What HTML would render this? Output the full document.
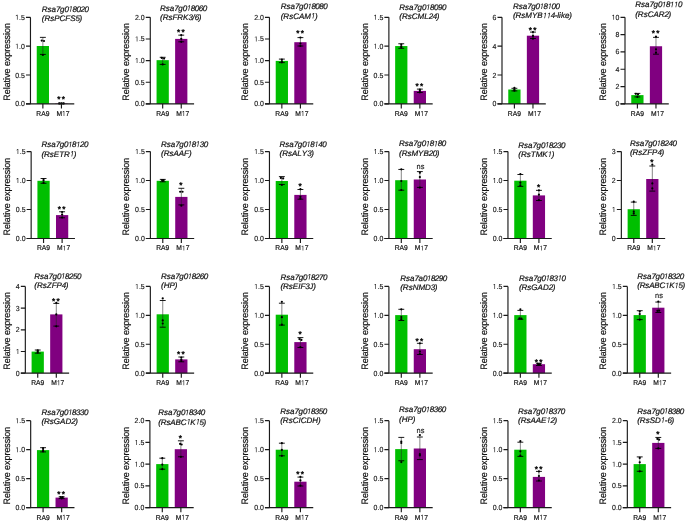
<!DOCTYPE html>
<html><head><meta charset="utf-8"><style>
html,body{margin:0;padding:0;background:#fff}
svg{display:block;will-change:transform}
text{font-kerning:none;font-family:'Liberation Sans', sans-serif;fill:#111;stroke:#111;stroke-width:0.12px;text-rendering:geometricPrecision}
.tl{font-size:7.25px;stroke-width:0.13px}
.xl{font-size:7.0px;stroke-width:0.2px}
.yl{font-size:9.37px;stroke-width:0.2px}
.tt{font-size:8.0px;font-style:italic;stroke-width:0.2px}
.ns{font-size:7.7px}
.sg{fill:#111}
.h{fill:none;stroke:none}
.o{fill:#111;stroke:#111;stroke-width:0.16px}
.oi{stroke-width:0.2px}
.st{font-size:8.2px;stroke-width:0.45px}
</style></head><body>
<svg width="685" height="522" viewBox="0 0 685 522">
<rect x="36.74" y="46" width="12.25" height="57.9" fill="#00bf00"/>
<rect x="55.31" y="103.5" width="12.25" height="0.4" fill="#800080"/>
<path d="M42.87 37.36V54.4" stroke="#222" stroke-width="0.55" fill="none"/>
<path d="M39.92 37.36H45.82M39.92 54.4H45.82" stroke="#000" stroke-width="0.9" fill="none"/>
<circle cx="41.72" cy="40.6" r="1.1" fill="#000"/>
<circle cx="44.02" cy="41" r="1.1" fill="#000"/>
<circle cx="42.87" cy="55" r="1.1" fill="#000"/>
<path d="M61.44 103.1V103.9" stroke="#222" stroke-width="0.55" fill="none"/>
<path d="M58.49 103.1H64.39M58.49 103.9H64.39" stroke="#000" stroke-width="0.9" fill="none"/>
<circle cx="59.24" cy="103.4" r="1.1" fill="#000"/>
<circle cx="61.44" cy="103.4" r="1.1" fill="#000"/>
<circle cx="63.64" cy="103.4" r="1.1" fill="#000"/>
<path d="M30.47 17.3V103.9M25.97 103.9H74.27" stroke="#1a1a1a" stroke-width="1.15" fill="none"/>
<text transform="translate(24.87 106.4) scale(0.96 1)" text-anchor="end" class="tl">0.0</text>
<text transform="translate(24.87 77.53) scale(0.96 1)" text-anchor="end" class="tl">0.5</text>
<g transform="translate(24.87 48.67) scale(0.96 1)"><text text-anchor="end" class="tl"><tspan class="h">1</tspan>.0</text><path d="M515 0L515 1237L197 1010L197 1180L530 1409L696 1409L696 0Z" transform="translate(-10.08 0) scale(0.003540 -0.003540)" class="o"/></g>
<g transform="translate(24.87 19.8) scale(0.96 1)"><text text-anchor="end" class="tl"><tspan class="h">1</tspan>.5</text><path d="M515 0L515 1237L197 1010L197 1180L530 1409L696 1409L696 0Z" transform="translate(-10.08 0) scale(0.003540 -0.003540)" class="o"/></g>
<path d="M25.97 103.9H30.47M25.97 75.03H30.47M25.97 46.17H30.47M25.97 17.3H30.47M42.87 103.9V108.5M61.44 103.9V108.5" stroke="#1a1a1a" stroke-width="1.15" fill="none"/>
<text transform="translate(42.87 115.9) scale(0.96 1)" text-anchor="middle" class="xl">RA9</text>
<g transform="translate(62.94 115.9) scale(0.96 1)"><text text-anchor="middle" class="xl">M<tspan class="h">1</tspan>7</text><path d="M515 0L515 1237L197 1010L197 1180L530 1409L696 1409L696 0Z" transform="translate(-0.98 0) scale(0.003418 -0.003418)" class="o"/></g>
<text transform="translate(10 100.7) rotate(-90) scale(0.95 1)" class="yl">Relative expression</text>
<text x="41.8" y="11.7" class="tt">Rsa<tspan letter-spacing="-0.45">7</tspan>g<tspan letter-spacing="-0.45">0<tspan class="h">1</tspan>8020</tspan></text><path d="M412 0L650 1223L289 1000L324 1180L701 1409L867 1409L593 0Z" transform="translate(68.47 11.7) scale(0.003906 -0.003906)" class="o oi"/>
<text x="41.8" y="21" class="tt">(RsPCFS<tspan letter-spacing="-0.45">5</tspan>)</text>
<text x="58.74" y="102.4" text-anchor="middle" class="st">*</text>
<text x="63.24" y="102.4" text-anchor="middle" class="st">*</text>
<rect x="156.56" y="60.15" width="12.25" height="43.75" fill="#00bf00"/>
<rect x="175.12" y="38.9" width="12.25" height="65" fill="#800080"/>
<path d="M162.68 57.3V64.4" stroke="#222" stroke-width="0.55" fill="none"/>
<path d="M159.73 57.3H165.63M159.73 64.4H165.63" stroke="#000" stroke-width="0.9" fill="none"/>
<circle cx="161.78" cy="57.9" r="1.1" fill="#000"/>
<circle cx="164.08" cy="58.6" r="1.1" fill="#000"/>
<circle cx="162.68" cy="64.4" r="1.1" fill="#000"/>
<path d="M181.25 35.15V41.8" stroke="#222" stroke-width="0.55" fill="none"/>
<path d="M178.3 35.15H184.2M178.3 41.8H184.2" stroke="#000" stroke-width="0.9" fill="none"/>
<circle cx="181.25" cy="35.05" r="1.1" fill="#000"/>
<circle cx="181.25" cy="38.8" r="1.1" fill="#000"/>
<circle cx="181.25" cy="41.8" r="1.1" fill="#000"/>
<path d="M150.28 17.3V103.9M145.78 103.9H194.08" stroke="#1a1a1a" stroke-width="1.15" fill="none"/>
<text transform="translate(144.68 106.4) scale(0.96 1)" text-anchor="end" class="tl">0.0</text>
<text transform="translate(144.68 84.75) scale(0.96 1)" text-anchor="end" class="tl">0.5</text>
<g transform="translate(144.68 63.1) scale(0.96 1)"><text text-anchor="end" class="tl"><tspan class="h">1</tspan>.0</text><path d="M515 0L515 1237L197 1010L197 1180L530 1409L696 1409L696 0Z" transform="translate(-10.08 0) scale(0.003540 -0.003540)" class="o"/></g>
<g transform="translate(144.68 41.45) scale(0.96 1)"><text text-anchor="end" class="tl"><tspan class="h">1</tspan>.5</text><path d="M515 0L515 1237L197 1010L197 1180L530 1409L696 1409L696 0Z" transform="translate(-10.08 0) scale(0.003540 -0.003540)" class="o"/></g>
<text transform="translate(144.68 19.8) scale(0.96 1)" text-anchor="end" class="tl">2.0</text>
<path d="M145.78 103.9H150.28M145.78 82.25H150.28M145.78 60.6H150.28M145.78 38.95H150.28M145.78 17.3H150.28M162.68 103.9V108.5M181.25 103.9V108.5" stroke="#1a1a1a" stroke-width="1.15" fill="none"/>
<text transform="translate(162.68 115.9) scale(0.96 1)" text-anchor="middle" class="xl">RA9</text>
<g transform="translate(182.75 115.9) scale(0.96 1)"><text text-anchor="middle" class="xl">M<tspan class="h">1</tspan>7</text><path d="M515 0L515 1237L197 1010L197 1180L530 1409L696 1409L696 0Z" transform="translate(-0.98 0) scale(0.003418 -0.003418)" class="o"/></g>
<text transform="translate(129 100.7) rotate(-90) scale(0.95 1)" class="yl">Relative expression</text>
<text x="160" y="10.8" class="tt">Rsa<tspan letter-spacing="-0.45">7</tspan>g<tspan letter-spacing="-0.45">0<tspan class="h">1</tspan>8060</tspan></text><path d="M412 0L650 1223L289 1000L324 1180L701 1409L867 1409L593 0Z" transform="translate(186.67 10.8) scale(0.003906 -0.003906)" class="o oi"/>
<text x="160" y="20.1" class="tt">(RsFRK<tspan letter-spacing="-0.45">3</tspan>/<tspan letter-spacing="-0.45">6</tspan>)</text>
<text x="178.55" y="35.2" text-anchor="middle" class="st">*</text>
<text x="183.05" y="35.2" text-anchor="middle" class="st">*</text>
<rect x="275.72" y="60.9" width="12.25" height="43" fill="#00bf00"/>
<rect x="294.29" y="42.2" width="12.25" height="61.7" fill="#800080"/>
<path d="M281.85 59.1V62.6" stroke="#222" stroke-width="0.55" fill="none"/>
<path d="M278.9 59.1H284.8M278.9 62.6H284.8" stroke="#000" stroke-width="0.9" fill="none"/>
<circle cx="281.85" cy="59.5" r="1.1" fill="#000"/>
<circle cx="281.85" cy="61.3" r="1.1" fill="#000"/>
<circle cx="281.85" cy="62.3" r="1.1" fill="#000"/>
<path d="M300.42 37.6V46" stroke="#222" stroke-width="0.55" fill="none"/>
<path d="M297.47 37.6H303.37M297.47 46H303.37" stroke="#000" stroke-width="0.9" fill="none"/>
<circle cx="300.42" cy="37.5" r="1.1" fill="#000"/>
<circle cx="300.42" cy="43.5" r="1.1" fill="#000"/>
<circle cx="300.42" cy="46" r="1.1" fill="#000"/>
<path d="M269.45 17.3V103.9M264.95 103.9H313.25" stroke="#1a1a1a" stroke-width="1.15" fill="none"/>
<text transform="translate(263.85 106.4) scale(0.96 1)" text-anchor="end" class="tl">0.0</text>
<text transform="translate(263.85 84.75) scale(0.96 1)" text-anchor="end" class="tl">0.5</text>
<g transform="translate(263.85 63.1) scale(0.96 1)"><text text-anchor="end" class="tl"><tspan class="h">1</tspan>.0</text><path d="M515 0L515 1237L197 1010L197 1180L530 1409L696 1409L696 0Z" transform="translate(-10.08 0) scale(0.003540 -0.003540)" class="o"/></g>
<g transform="translate(263.85 41.45) scale(0.96 1)"><text text-anchor="end" class="tl"><tspan class="h">1</tspan>.5</text><path d="M515 0L515 1237L197 1010L197 1180L530 1409L696 1409L696 0Z" transform="translate(-10.08 0) scale(0.003540 -0.003540)" class="o"/></g>
<text transform="translate(263.85 19.8) scale(0.96 1)" text-anchor="end" class="tl">2.0</text>
<path d="M264.95 103.9H269.45M264.95 82.25H269.45M264.95 60.6H269.45M264.95 38.95H269.45M264.95 17.3H269.45M281.85 103.9V108.5M300.42 103.9V108.5" stroke="#1a1a1a" stroke-width="1.15" fill="none"/>
<text transform="translate(281.85 115.9) scale(0.96 1)" text-anchor="middle" class="xl">RA9</text>
<g transform="translate(301.92 115.9) scale(0.96 1)"><text text-anchor="middle" class="xl">M<tspan class="h">1</tspan>7</text><path d="M515 0L515 1237L197 1010L197 1180L530 1409L696 1409L696 0Z" transform="translate(-0.98 0) scale(0.003418 -0.003418)" class="o"/></g>
<text transform="translate(248.4 100.7) rotate(-90) scale(0.95 1)" class="yl">Relative expression</text>
<text x="280.7" y="9.3" class="tt">Rsa<tspan letter-spacing="-0.45">7</tspan>g<tspan letter-spacing="-0.45">0<tspan class="h">1</tspan>8080</tspan></text><path d="M412 0L650 1223L289 1000L324 1180L701 1409L867 1409L593 0Z" transform="translate(307.37 9.3) scale(0.003906 -0.003906)" class="o oi"/>
<text x="280.7" y="18.6" class="tt">(RsCAM<tspan letter-spacing="-0.45"><tspan class="h">1</tspan></tspan>)</text><path d="M412 0L650 1223L289 1000L324 1180L701 1409L867 1409L593 0Z" transform="translate(310.92 18.6) scale(0.003906 -0.003906)" class="o oi"/>
<text x="297.72" y="36.2" text-anchor="middle" class="st">*</text>
<text x="302.22" y="36.2" text-anchor="middle" class="st">*</text>
<rect x="395.15" y="46.05" width="12.25" height="57.85" fill="#00bf00"/>
<rect x="413.73" y="90.9" width="12.25" height="13" fill="#800080"/>
<path d="M401.28 43.75V48.3" stroke="#222" stroke-width="0.55" fill="none"/>
<path d="M398.33 43.75H404.23M398.33 48.3H404.23" stroke="#000" stroke-width="0.9" fill="none"/>
<circle cx="401.28" cy="44.5" r="1.1" fill="#000"/>
<circle cx="401.28" cy="46.3" r="1.1" fill="#000"/>
<circle cx="401.28" cy="47.5" r="1.1" fill="#000"/>
<path d="M419.85 89.1V92.5" stroke="#222" stroke-width="0.55" fill="none"/>
<path d="M416.9 89.1H422.8M416.9 92.5H422.8" stroke="#000" stroke-width="0.9" fill="none"/>
<circle cx="419.85" cy="89.5" r="1.1" fill="#000"/>
<circle cx="419.85" cy="90.8" r="1.1" fill="#000"/>
<circle cx="419.85" cy="92.3" r="1.1" fill="#000"/>
<path d="M388.88 17.3V103.9M384.38 103.9H432.68" stroke="#1a1a1a" stroke-width="1.15" fill="none"/>
<text transform="translate(383.28 106.4) scale(0.96 1)" text-anchor="end" class="tl">0.0</text>
<text transform="translate(383.28 77.53) scale(0.96 1)" text-anchor="end" class="tl">0.5</text>
<g transform="translate(383.28 48.67) scale(0.96 1)"><text text-anchor="end" class="tl"><tspan class="h">1</tspan>.0</text><path d="M515 0L515 1237L197 1010L197 1180L530 1409L696 1409L696 0Z" transform="translate(-10.08 0) scale(0.003540 -0.003540)" class="o"/></g>
<g transform="translate(383.28 19.8) scale(0.96 1)"><text text-anchor="end" class="tl"><tspan class="h">1</tspan>.5</text><path d="M515 0L515 1237L197 1010L197 1180L530 1409L696 1409L696 0Z" transform="translate(-10.08 0) scale(0.003540 -0.003540)" class="o"/></g>
<path d="M384.38 103.9H388.88M384.38 75.03H388.88M384.38 46.17H388.88M384.38 17.3H388.88M401.28 103.9V108.5M419.85 103.9V108.5" stroke="#1a1a1a" stroke-width="1.15" fill="none"/>
<text transform="translate(401.28 115.9) scale(0.96 1)" text-anchor="middle" class="xl">RA9</text>
<g transform="translate(421.35 115.9) scale(0.96 1)"><text text-anchor="middle" class="xl">M<tspan class="h">1</tspan>7</text><path d="M515 0L515 1237L197 1010L197 1180L530 1409L696 1409L696 0Z" transform="translate(-0.98 0) scale(0.003418 -0.003418)" class="o"/></g>
<text transform="translate(367.8 100.7) rotate(-90) scale(0.95 1)" class="yl">Relative expression</text>
<text x="399.3" y="9.9" class="tt">Rsa<tspan letter-spacing="-0.45">7</tspan>g<tspan letter-spacing="-0.45">0<tspan class="h">1</tspan>8090</tspan></text><path d="M412 0L650 1223L289 1000L324 1180L701 1409L867 1409L593 0Z" transform="translate(425.97 9.9) scale(0.003906 -0.003906)" class="o oi"/>
<text x="399.3" y="19.2" class="tt">(RsCML<tspan letter-spacing="-0.45">24</tspan>)</text>
<text x="417.15" y="88.7" text-anchor="middle" class="st">*</text>
<text x="421.65" y="88.7" text-anchor="middle" class="st">*</text>
<rect x="508.27" y="89.5" width="12.25" height="14.4" fill="#00bf00"/>
<rect x="526.85" y="35.7" width="12.25" height="68.2" fill="#800080"/>
<path d="M514.4 88.3V90.9" stroke="#222" stroke-width="0.55" fill="none"/>
<path d="M511.45 88.3H517.35M511.45 90.9H517.35" stroke="#000" stroke-width="0.9" fill="none"/>
<circle cx="514.4" cy="87.8" r="1.1" fill="#000"/>
<circle cx="514.4" cy="89.6" r="1.1" fill="#000"/>
<circle cx="514.4" cy="90.7" r="1.1" fill="#000"/>
<path d="M532.97 32.1V38.5" stroke="#222" stroke-width="0.55" fill="none"/>
<path d="M530.02 32.1H535.92M530.02 38.5H535.92" stroke="#000" stroke-width="0.9" fill="none"/>
<circle cx="532.97" cy="32" r="1.1" fill="#000"/>
<circle cx="532.97" cy="35.9" r="1.1" fill="#000"/>
<circle cx="532.97" cy="38.7" r="1.1" fill="#000"/>
<path d="M502 17.3V103.9M497.5 103.9H545.8" stroke="#1a1a1a" stroke-width="1.15" fill="none"/>
<text transform="translate(496.4 106.4) scale(0.96 1)" text-anchor="end" class="tl">0</text>
<text transform="translate(496.4 77.53) scale(0.96 1)" text-anchor="end" class="tl">2</text>
<text transform="translate(496.4 48.67) scale(0.96 1)" text-anchor="end" class="tl">4</text>
<text transform="translate(496.4 19.8) scale(0.96 1)" text-anchor="end" class="tl">6</text>
<path d="M497.5 103.9H502M497.5 75.03H502M497.5 46.17H502M497.5 17.3H502M514.4 103.9V108.5M532.97 103.9V108.5" stroke="#1a1a1a" stroke-width="1.15" fill="none"/>
<text transform="translate(514.4 115.9) scale(0.96 1)" text-anchor="middle" class="xl">RA9</text>
<g transform="translate(534.47 115.9) scale(0.96 1)"><text text-anchor="middle" class="xl">M<tspan class="h">1</tspan>7</text><path d="M515 0L515 1237L197 1010L197 1180L530 1409L696 1409L696 0Z" transform="translate(-0.98 0) scale(0.003418 -0.003418)" class="o"/></g>
<text transform="translate(486.9 100.7) rotate(-90) scale(0.95 1)" class="yl">Relative expression</text>
<text x="512.9" y="9.05" class="tt">Rsa<tspan letter-spacing="-0.45">7</tspan>g<tspan letter-spacing="-0.45">0<tspan class="h">1</tspan>8<tspan class="h">1</tspan>00</tspan></text><path d="M412 0L650 1223L289 1000L324 1180L701 1409L867 1409L593 0Z" transform="translate(539.57 9.05) scale(0.003906 -0.003906)" class="o oi"/><path d="M412 0L650 1223L289 1000L324 1180L701 1409L867 1409L593 0Z" transform="translate(547.57 9.05) scale(0.003906 -0.003906)" class="o oi"/>
<text x="512.9" y="18.35" class="tt">(RsMYB<tspan letter-spacing="-0.45"><tspan class="h">1</tspan><tspan class="h">1</tspan>4</tspan>-like)</text><path d="M412 0L650 1223L289 1000L324 1180L701 1409L867 1409L593 0Z" transform="translate(542.68 18.35) scale(0.003906 -0.003906)" class="o oi"/><path d="M412 0L650 1223L289 1000L324 1180L701 1409L867 1409L593 0Z" transform="translate(546.68 18.35) scale(0.003906 -0.003906)" class="o oi"/>
<text x="530.27" y="32.6" text-anchor="middle" class="st">*</text>
<text x="534.77" y="32.6" text-anchor="middle" class="st">*</text>
<rect x="631.27" y="95.1" width="12.25" height="8.8" fill="#00bf00"/>
<rect x="649.85" y="46.25" width="12.25" height="57.65" fill="#800080"/>
<path d="M637.4 93.4V96.9" stroke="#222" stroke-width="0.55" fill="none"/>
<path d="M634.45 93.4H640.35M634.45 96.9H640.35" stroke="#000" stroke-width="0.9" fill="none"/>
<circle cx="635.85" cy="93.8" r="1.1" fill="#000"/>
<circle cx="638.05" cy="94.3" r="1.1" fill="#000"/>
<circle cx="637.4" cy="97" r="1.1" fill="#000"/>
<path d="M655.97 37.35V54.2" stroke="#222" stroke-width="0.55" fill="none"/>
<path d="M653.02 37.35H658.92M653.02 54.2H658.92" stroke="#000" stroke-width="0.9" fill="none"/>
<circle cx="655.97" cy="36.7" r="1.1" fill="#000"/>
<circle cx="655.97" cy="49.3" r="1.1" fill="#000"/>
<circle cx="655.97" cy="52.7" r="1.1" fill="#000"/>
<path d="M625 17.3V103.9M620.5 103.9H668.8" stroke="#1a1a1a" stroke-width="1.15" fill="none"/>
<text transform="translate(619.4 106.4) scale(0.96 1)" text-anchor="end" class="tl">0</text>
<text transform="translate(619.4 89.08) scale(0.96 1)" text-anchor="end" class="tl">2</text>
<text transform="translate(619.4 71.76) scale(0.96 1)" text-anchor="end" class="tl">4</text>
<text transform="translate(619.4 54.44) scale(0.96 1)" text-anchor="end" class="tl">6</text>
<text transform="translate(619.4 37.12) scale(0.96 1)" text-anchor="end" class="tl">8</text>
<g transform="translate(619.4 19.8) scale(0.96 1)"><text text-anchor="end" class="tl"><tspan class="h">1</tspan>0</text><path d="M515 0L515 1237L197 1010L197 1180L530 1409L696 1409L696 0Z" transform="translate(-8.06 0) scale(0.003540 -0.003540)" class="o"/></g>
<path d="M620.5 103.9H625M620.5 86.58H625M620.5 69.26H625M620.5 51.94H625M620.5 34.62H625M620.5 17.3H625M637.4 103.9V108.5M655.97 103.9V108.5" stroke="#1a1a1a" stroke-width="1.15" fill="none"/>
<text transform="translate(637.4 115.9) scale(0.96 1)" text-anchor="middle" class="xl">RA9</text>
<g transform="translate(657.47 115.9) scale(0.96 1)"><text text-anchor="middle" class="xl">M<tspan class="h">1</tspan>7</text><path d="M515 0L515 1237L197 1010L197 1180L530 1409L696 1409L696 0Z" transform="translate(-0.98 0) scale(0.003418 -0.003418)" class="o"/></g>
<text transform="translate(606 100.7) rotate(-90) scale(0.95 1)" class="yl">Relative expression</text>
<text x="635.2" y="7.3" class="tt">Rsa<tspan letter-spacing="-0.45">7</tspan>g<tspan letter-spacing="-0.45">0<tspan class="h">1</tspan>8<tspan class="h">1</tspan><tspan class="h">1</tspan>0</tspan></text><path d="M412 0L650 1223L289 1000L324 1180L701 1409L867 1409L593 0Z" transform="translate(661.87 7.3) scale(0.003906 -0.003906)" class="o oi"/><path d="M412 0L650 1223L289 1000L324 1180L701 1409L867 1409L593 0Z" transform="translate(669.87 7.3) scale(0.003906 -0.003906)" class="o oi"/><path d="M412 0L650 1223L289 1000L324 1180L701 1409L867 1409L593 0Z" transform="translate(673.87 7.3) scale(0.003906 -0.003906)" class="o oi"/>
<text x="635.2" y="16.6" class="tt">(RsCAR<tspan letter-spacing="-0.45">2</tspan>)</text>
<text x="653.27" y="35.9" text-anchor="middle" class="st">*</text>
<text x="657.77" y="35.9" text-anchor="middle" class="st">*</text>
<rect x="37.42" y="180.8" width="12.25" height="57.67" fill="#00bf00"/>
<rect x="55.99" y="215.1" width="12.25" height="23.37" fill="#800080"/>
<path d="M43.55 178.5V183.3" stroke="#222" stroke-width="0.55" fill="none"/>
<path d="M40.6 178.5H46.5M40.6 183.3H46.5" stroke="#000" stroke-width="0.9" fill="none"/>
<circle cx="43.55" cy="179" r="1.1" fill="#000"/>
<circle cx="43.55" cy="180.5" r="1.1" fill="#000"/>
<circle cx="43.55" cy="182.8" r="1.1" fill="#000"/>
<path d="M62.12 211.75V217.8" stroke="#222" stroke-width="0.55" fill="none"/>
<path d="M59.17 211.75H65.07M59.17 217.8H65.07" stroke="#000" stroke-width="0.9" fill="none"/>
<circle cx="62.12" cy="212" r="1.1" fill="#000"/>
<circle cx="62.12" cy="214.5" r="1.1" fill="#000"/>
<circle cx="62.12" cy="217.5" r="1.1" fill="#000"/>
<path d="M31.15 151.57V238.47M26.65 238.47H74.95" stroke="#1a1a1a" stroke-width="1.15" fill="none"/>
<text transform="translate(25.55 240.97) scale(0.96 1)" text-anchor="end" class="tl">0.0</text>
<text transform="translate(25.55 212) scale(0.96 1)" text-anchor="end" class="tl">0.5</text>
<g transform="translate(25.55 183.04) scale(0.96 1)"><text text-anchor="end" class="tl"><tspan class="h">1</tspan>.0</text><path d="M515 0L515 1237L197 1010L197 1180L530 1409L696 1409L696 0Z" transform="translate(-10.08 0) scale(0.003540 -0.003540)" class="o"/></g>
<g transform="translate(25.55 154.07) scale(0.96 1)"><text text-anchor="end" class="tl"><tspan class="h">1</tspan>.5</text><path d="M515 0L515 1237L197 1010L197 1180L530 1409L696 1409L696 0Z" transform="translate(-10.08 0) scale(0.003540 -0.003540)" class="o"/></g>
<path d="M26.65 238.47H31.15M26.65 209.5H31.15M26.65 180.54H31.15M26.65 151.57H31.15M43.55 238.47V243.07M62.12 238.47V243.07" stroke="#1a1a1a" stroke-width="1.15" fill="none"/>
<text transform="translate(43.55 250.47) scale(0.96 1)" text-anchor="middle" class="xl">RA9</text>
<g transform="translate(63.62 250.47) scale(0.96 1)"><text text-anchor="middle" class="xl">M<tspan class="h">1</tspan>7</text><path d="M515 0L515 1237L197 1010L197 1180L530 1409L696 1409L696 0Z" transform="translate(-0.98 0) scale(0.003418 -0.003418)" class="o"/></g>
<text transform="translate(10 235.5) rotate(-90) scale(0.95 1)" class="yl">Relative expression</text>
<text x="41.4" y="147.3" class="tt">Rsa<tspan letter-spacing="-0.45">7</tspan>g<tspan letter-spacing="-0.45">0<tspan class="h">1</tspan>8<tspan class="h">1</tspan>20</tspan></text><path d="M412 0L650 1223L289 1000L324 1180L701 1409L867 1409L593 0Z" transform="translate(68.07 147.3) scale(0.003906 -0.003906)" class="o oi"/><path d="M412 0L650 1223L289 1000L324 1180L701 1409L867 1409L593 0Z" transform="translate(76.07 147.3) scale(0.003906 -0.003906)" class="o oi"/>
<text x="41.4" y="156.6" class="tt">(RsETR<tspan letter-spacing="-0.45"><tspan class="h">1</tspan></tspan>)</text><path d="M412 0L650 1223L289 1000L324 1180L701 1409L867 1409L593 0Z" transform="translate(69.84 156.6) scale(0.003906 -0.003906)" class="o oi"/>
<text x="59.42" y="211.7" text-anchor="middle" class="st">*</text>
<text x="63.92" y="211.7" text-anchor="middle" class="st">*</text>
<rect x="156.66" y="180.8" width="12.25" height="57.67" fill="#00bf00"/>
<rect x="175.22" y="196.9" width="12.25" height="41.57" fill="#800080"/>
<path d="M162.78 179.4V181.8" stroke="#222" stroke-width="0.55" fill="none"/>
<path d="M159.83 179.4H165.73M159.83 181.8H165.73" stroke="#000" stroke-width="0.9" fill="none"/>
<circle cx="161.98" cy="180" r="1.1" fill="#000"/>
<circle cx="163.58" cy="180.2" r="1.1" fill="#000"/>
<circle cx="162.78" cy="181" r="1.1" fill="#000"/>
<path d="M181.35 188.3V204.9" stroke="#222" stroke-width="0.55" fill="none"/>
<path d="M178.4 188.3H184.3M178.4 204.9H184.3" stroke="#000" stroke-width="0.9" fill="none"/>
<circle cx="180.15" cy="191.75" r="1.1" fill="#000"/>
<circle cx="182.55" cy="191.75" r="1.1" fill="#000"/>
<circle cx="181.35" cy="205.7" r="1.1" fill="#000"/>
<path d="M150.38 151.57V238.47M145.88 238.47H194.18" stroke="#1a1a1a" stroke-width="1.15" fill="none"/>
<text transform="translate(144.78 240.97) scale(0.96 1)" text-anchor="end" class="tl">0.0</text>
<text transform="translate(144.78 212) scale(0.96 1)" text-anchor="end" class="tl">0.5</text>
<g transform="translate(144.78 183.04) scale(0.96 1)"><text text-anchor="end" class="tl"><tspan class="h">1</tspan>.0</text><path d="M515 0L515 1237L197 1010L197 1180L530 1409L696 1409L696 0Z" transform="translate(-10.08 0) scale(0.003540 -0.003540)" class="o"/></g>
<g transform="translate(144.78 154.07) scale(0.96 1)"><text text-anchor="end" class="tl"><tspan class="h">1</tspan>.5</text><path d="M515 0L515 1237L197 1010L197 1180L530 1409L696 1409L696 0Z" transform="translate(-10.08 0) scale(0.003540 -0.003540)" class="o"/></g>
<path d="M145.88 238.47H150.38M145.88 209.5H150.38M145.88 180.54H150.38M145.88 151.57H150.38M162.78 238.47V243.07M181.35 238.47V243.07" stroke="#1a1a1a" stroke-width="1.15" fill="none"/>
<text transform="translate(162.78 250.47) scale(0.96 1)" text-anchor="middle" class="xl">RA9</text>
<g transform="translate(182.85 250.47) scale(0.96 1)"><text text-anchor="middle" class="xl">M<tspan class="h">1</tspan>7</text><path d="M515 0L515 1237L197 1010L197 1180L530 1409L696 1409L696 0Z" transform="translate(-0.98 0) scale(0.003418 -0.003418)" class="o"/></g>
<text transform="translate(129 235.5) rotate(-90) scale(0.95 1)" class="yl">Relative expression</text>
<text x="161" y="146.7" class="tt">Rsa<tspan letter-spacing="-0.45">7</tspan>g<tspan letter-spacing="-0.45">0<tspan class="h">1</tspan>8<tspan class="h">1</tspan>30</tspan></text><path d="M412 0L650 1223L289 1000L324 1180L701 1409L867 1409L593 0Z" transform="translate(187.67 146.7) scale(0.003906 -0.003906)" class="o oi"/><path d="M412 0L650 1223L289 1000L324 1180L701 1409L867 1409L593 0Z" transform="translate(195.67 146.7) scale(0.003906 -0.003906)" class="o oi"/>
<text x="161" y="156" class="tt">(RsAAF)</text>
<text x="180.9" y="188.2" text-anchor="middle" class="st">*</text>
<rect x="275.72" y="181" width="12.25" height="57.47" fill="#00bf00"/>
<rect x="294.29" y="194.9" width="12.25" height="43.57" fill="#800080"/>
<path d="M281.85 176.6V184.5" stroke="#222" stroke-width="0.55" fill="none"/>
<path d="M278.9 176.6H284.8M278.9 184.5H284.8" stroke="#000" stroke-width="0.9" fill="none"/>
<circle cx="280.85" cy="177.9" r="1.1" fill="#000"/>
<circle cx="283.15" cy="178.4" r="1.1" fill="#000"/>
<circle cx="281.85" cy="185" r="1.1" fill="#000"/>
<path d="M300.42 189.5V199.2" stroke="#222" stroke-width="0.55" fill="none"/>
<path d="M297.47 189.5H303.37M297.47 199.2H303.37" stroke="#000" stroke-width="0.9" fill="none"/>
<circle cx="300.42" cy="189.2" r="1.1" fill="#000"/>
<circle cx="300.42" cy="196.8" r="1.1" fill="#000"/>
<circle cx="300.42" cy="198.7" r="1.1" fill="#000"/>
<path d="M269.45 151.57V238.47M264.95 238.47H313.25" stroke="#1a1a1a" stroke-width="1.15" fill="none"/>
<text transform="translate(263.85 240.97) scale(0.96 1)" text-anchor="end" class="tl">0.0</text>
<text transform="translate(263.85 212) scale(0.96 1)" text-anchor="end" class="tl">0.5</text>
<g transform="translate(263.85 183.04) scale(0.96 1)"><text text-anchor="end" class="tl"><tspan class="h">1</tspan>.0</text><path d="M515 0L515 1237L197 1010L197 1180L530 1409L696 1409L696 0Z" transform="translate(-10.08 0) scale(0.003540 -0.003540)" class="o"/></g>
<g transform="translate(263.85 154.07) scale(0.96 1)"><text text-anchor="end" class="tl"><tspan class="h">1</tspan>.5</text><path d="M515 0L515 1237L197 1010L197 1180L530 1409L696 1409L696 0Z" transform="translate(-10.08 0) scale(0.003540 -0.003540)" class="o"/></g>
<path d="M264.95 238.47H269.45M264.95 209.5H269.45M264.95 180.54H269.45M264.95 151.57H269.45M281.85 238.47V243.07M300.42 238.47V243.07" stroke="#1a1a1a" stroke-width="1.15" fill="none"/>
<text transform="translate(281.85 250.47) scale(0.96 1)" text-anchor="middle" class="xl">RA9</text>
<g transform="translate(301.92 250.47) scale(0.96 1)"><text text-anchor="middle" class="xl">M<tspan class="h">1</tspan>7</text><path d="M515 0L515 1237L197 1010L197 1180L530 1409L696 1409L696 0Z" transform="translate(-0.98 0) scale(0.003418 -0.003418)" class="o"/></g>
<text transform="translate(248.4 235.5) rotate(-90) scale(0.95 1)" class="yl">Relative expression</text>
<text x="279.6" y="147" class="tt">Rsa<tspan letter-spacing="-0.45">7</tspan>g<tspan letter-spacing="-0.45">0<tspan class="h">1</tspan>8<tspan class="h">1</tspan>40</tspan></text><path d="M412 0L650 1223L289 1000L324 1180L701 1409L867 1409L593 0Z" transform="translate(306.27 147) scale(0.003906 -0.003906)" class="o oi"/><path d="M412 0L650 1223L289 1000L324 1180L701 1409L867 1409L593 0Z" transform="translate(314.27 147) scale(0.003906 -0.003906)" class="o oi"/>
<text x="279.6" y="156.3" class="tt">(RsALY<tspan letter-spacing="-0.45">3</tspan>)</text>
<text x="299.97" y="188.6" text-anchor="middle" class="st">*</text>
<rect x="395.17" y="180.2" width="12.25" height="58.27" fill="#00bf00"/>
<rect x="413.75" y="179.5" width="12.25" height="58.97" fill="#800080"/>
<path d="M401.3 169.45V190.2" stroke="#222" stroke-width="0.55" fill="none"/>
<path d="M398.35 169.45H404.25M398.35 190.2H404.25" stroke="#000" stroke-width="0.9" fill="none"/>
<circle cx="401.3" cy="169.3" r="1.1" fill="#000"/>
<circle cx="401.3" cy="181" r="1.1" fill="#000"/>
<circle cx="401.3" cy="190" r="1.1" fill="#000"/>
<path d="M419.87 171.6V187.4" stroke="#222" stroke-width="0.55" fill="none"/>
<path d="M416.92 171.6H422.82M416.92 187.4H422.82" stroke="#000" stroke-width="0.9" fill="none"/>
<circle cx="419.87" cy="172.7" r="1.1" fill="#000"/>
<circle cx="419.87" cy="177.1" r="1.1" fill="#000"/>
<circle cx="419.87" cy="187.6" r="1.1" fill="#000"/>
<path d="M388.9 151.57V238.47M384.4 238.47H432.7" stroke="#1a1a1a" stroke-width="1.15" fill="none"/>
<text transform="translate(383.3 240.97) scale(0.96 1)" text-anchor="end" class="tl">0.0</text>
<text transform="translate(383.3 212) scale(0.96 1)" text-anchor="end" class="tl">0.5</text>
<g transform="translate(383.3 183.04) scale(0.96 1)"><text text-anchor="end" class="tl"><tspan class="h">1</tspan>.0</text><path d="M515 0L515 1237L197 1010L197 1180L530 1409L696 1409L696 0Z" transform="translate(-10.08 0) scale(0.003540 -0.003540)" class="o"/></g>
<g transform="translate(383.3 154.07) scale(0.96 1)"><text text-anchor="end" class="tl"><tspan class="h">1</tspan>.5</text><path d="M515 0L515 1237L197 1010L197 1180L530 1409L696 1409L696 0Z" transform="translate(-10.08 0) scale(0.003540 -0.003540)" class="o"/></g>
<path d="M384.4 238.47H388.9M384.4 209.5H388.9M384.4 180.54H388.9M384.4 151.57H388.9M401.3 238.47V243.07M419.87 238.47V243.07" stroke="#1a1a1a" stroke-width="1.15" fill="none"/>
<text transform="translate(401.3 250.47) scale(0.96 1)" text-anchor="middle" class="xl">RA9</text>
<g transform="translate(421.37 250.47) scale(0.96 1)"><text text-anchor="middle" class="xl">M<tspan class="h">1</tspan>7</text><path d="M515 0L515 1237L197 1010L197 1180L530 1409L696 1409L696 0Z" transform="translate(-0.98 0) scale(0.003418 -0.003418)" class="o"/></g>
<text transform="translate(367.8 235.5) rotate(-90) scale(0.95 1)" class="yl">Relative expression</text>
<text x="399" y="146.4" class="tt">Rsa<tspan letter-spacing="-0.45">7</tspan>g<tspan letter-spacing="-0.45">0<tspan class="h">1</tspan>8<tspan class="h">1</tspan>80</tspan></text><path d="M412 0L650 1223L289 1000L324 1180L701 1409L867 1409L593 0Z" transform="translate(425.67 146.4) scale(0.003906 -0.003906)" class="o oi"/><path d="M412 0L650 1223L289 1000L324 1180L701 1409L867 1409L593 0Z" transform="translate(433.67 146.4) scale(0.003906 -0.003906)" class="o oi"/>
<text x="399" y="155.7" class="tt">(RsMYB<tspan letter-spacing="-0.45">20</tspan>)</text>
<text transform="translate(420.52 168.5) scale(0.96 1)" text-anchor="middle" class="ns">ns</text>
<rect x="514.24" y="180.7" width="12.25" height="57.77" fill="#00bf00"/>
<rect x="532.8" y="195.4" width="12.25" height="43.07" fill="#800080"/>
<path d="M520.36 174.5V186.4" stroke="#222" stroke-width="0.55" fill="none"/>
<path d="M517.41 174.5H523.31M517.41 186.4H523.31" stroke="#000" stroke-width="0.9" fill="none"/>
<circle cx="520.36" cy="174" r="1.1" fill="#000"/>
<circle cx="520.36" cy="182.7" r="1.1" fill="#000"/>
<circle cx="520.36" cy="185.3" r="1.1" fill="#000"/>
<path d="M538.93 190.35V200.5" stroke="#222" stroke-width="0.55" fill="none"/>
<path d="M535.98 190.35H541.88M535.98 200.5H541.88" stroke="#000" stroke-width="0.9" fill="none"/>
<circle cx="538.93" cy="190.35" r="1.1" fill="#000"/>
<circle cx="538.93" cy="194.7" r="1.1" fill="#000"/>
<circle cx="538.93" cy="200.2" r="1.1" fill="#000"/>
<path d="M507.96 151.57V238.47M503.46 238.47H551.76" stroke="#1a1a1a" stroke-width="1.15" fill="none"/>
<text transform="translate(502.36 240.97) scale(0.96 1)" text-anchor="end" class="tl">0.0</text>
<text transform="translate(502.36 212) scale(0.96 1)" text-anchor="end" class="tl">0.5</text>
<g transform="translate(502.36 183.04) scale(0.96 1)"><text text-anchor="end" class="tl"><tspan class="h">1</tspan>.0</text><path d="M515 0L515 1237L197 1010L197 1180L530 1409L696 1409L696 0Z" transform="translate(-10.08 0) scale(0.003540 -0.003540)" class="o"/></g>
<g transform="translate(502.36 154.07) scale(0.96 1)"><text text-anchor="end" class="tl"><tspan class="h">1</tspan>.5</text><path d="M515 0L515 1237L197 1010L197 1180L530 1409L696 1409L696 0Z" transform="translate(-10.08 0) scale(0.003540 -0.003540)" class="o"/></g>
<path d="M503.46 238.47H507.96M503.46 209.5H507.96M503.46 180.54H507.96M503.46 151.57H507.96M520.36 238.47V243.07M538.93 238.47V243.07" stroke="#1a1a1a" stroke-width="1.15" fill="none"/>
<text transform="translate(520.36 250.47) scale(0.96 1)" text-anchor="middle" class="xl">RA9</text>
<g transform="translate(540.43 250.47) scale(0.96 1)"><text text-anchor="middle" class="xl">M<tspan class="h">1</tspan>7</text><path d="M515 0L515 1237L197 1010L197 1180L530 1409L696 1409L696 0Z" transform="translate(-0.98 0) scale(0.003418 -0.003418)" class="o"/></g>
<text transform="translate(486.9 235.5) rotate(-90) scale(0.95 1)" class="yl">Relative expression</text>
<text x="518.3" y="147.6" class="tt">Rsa<tspan letter-spacing="-0.45">7</tspan>g<tspan letter-spacing="-0.45">0<tspan class="h">1</tspan>8230</tspan></text><path d="M412 0L650 1223L289 1000L324 1180L701 1409L867 1409L593 0Z" transform="translate(544.97 147.6) scale(0.003906 -0.003906)" class="o oi"/>
<text x="518.3" y="156.9" class="tt">(RsTMK<tspan letter-spacing="-0.45"><tspan class="h">1</tspan></tspan>)</text><path d="M412 0L650 1223L289 1000L324 1180L701 1409L867 1409L593 0Z" transform="translate(547.63 156.9) scale(0.003906 -0.003906)" class="o oi"/>
<text x="538.48" y="189.8" text-anchor="middle" class="st">*</text>
<rect x="627.62" y="209.2" width="12.25" height="29.27" fill="#00bf00"/>
<rect x="646.2" y="179" width="12.25" height="59.47" fill="#800080"/>
<path d="M633.75 202.1V215.4" stroke="#222" stroke-width="0.55" fill="none"/>
<path d="M630.8 202.1H636.7M630.8 215.4H636.7" stroke="#000" stroke-width="0.9" fill="none"/>
<circle cx="633.75" cy="201.7" r="1.1" fill="#000"/>
<circle cx="633.75" cy="211.7" r="1.1" fill="#000"/>
<circle cx="633.75" cy="213.5" r="1.1" fill="#000"/>
<path d="M652.32 166V191.1" stroke="#222" stroke-width="0.55" fill="none"/>
<path d="M649.37 166H655.27M649.37 191.1H655.27" stroke="#000" stroke-width="0.9" fill="none"/>
<circle cx="652.32" cy="164.7" r="1.1" fill="#000"/>
<circle cx="652.32" cy="183.4" r="1.1" fill="#000"/>
<circle cx="652.32" cy="188.4" r="1.1" fill="#000"/>
<path d="M621.35 151.57V238.47M616.85 238.47H665.15" stroke="#1a1a1a" stroke-width="1.15" fill="none"/>
<text transform="translate(615.75 240.97) scale(0.96 1)" text-anchor="end" class="tl">0</text>
<g transform="translate(615.75 212) scale(0.96 1)"><text text-anchor="end" class="tl"><tspan class="h">1</tspan></text><path d="M515 0L515 1237L197 1010L197 1180L530 1409L696 1409L696 0Z" transform="translate(-4.03 0) scale(0.003540 -0.003540)" class="o"/></g>
<text transform="translate(615.75 183.04) scale(0.96 1)" text-anchor="end" class="tl">2</text>
<text transform="translate(615.75 154.07) scale(0.96 1)" text-anchor="end" class="tl">3</text>
<path d="M616.85 238.47H621.35M616.85 209.5H621.35M616.85 180.54H621.35M616.85 151.57H621.35M633.75 238.47V243.07M652.32 238.47V243.07" stroke="#1a1a1a" stroke-width="1.15" fill="none"/>
<text transform="translate(633.75 250.47) scale(0.96 1)" text-anchor="middle" class="xl">RA9</text>
<g transform="translate(653.82 250.47) scale(0.96 1)"><text text-anchor="middle" class="xl">M<tspan class="h">1</tspan>7</text><path d="M515 0L515 1237L197 1010L197 1180L530 1409L696 1409L696 0Z" transform="translate(-0.98 0) scale(0.003418 -0.003418)" class="o"/></g>
<text transform="translate(606 235.5) rotate(-90) scale(0.95 1)" class="yl">Relative expression</text>
<text x="629.9" y="146.1" class="tt">Rsa<tspan letter-spacing="-0.45">7</tspan>g<tspan letter-spacing="-0.45">0<tspan class="h">1</tspan>8240</tspan></text><path d="M412 0L650 1223L289 1000L324 1180L701 1409L867 1409L593 0Z" transform="translate(656.57 146.1) scale(0.003906 -0.003906)" class="o oi"/>
<text x="629.9" y="155.4" class="tt">(RsZFP<tspan letter-spacing="-0.45">4</tspan>)</text>
<text x="651.87" y="165.3" text-anchor="middle" class="st">*</text>
<rect x="31.6" y="351.6" width="12.25" height="21.58" fill="#00bf00"/>
<rect x="50.17" y="314.4" width="12.25" height="58.78" fill="#800080"/>
<path d="M37.73 350V353.2" stroke="#222" stroke-width="0.55" fill="none"/>
<path d="M34.78 350H40.68M34.78 353.2H40.68" stroke="#000" stroke-width="0.9" fill="none"/>
<circle cx="37.73" cy="350.3" r="1.1" fill="#000"/>
<circle cx="37.73" cy="351.3" r="1.1" fill="#000"/>
<circle cx="37.73" cy="352.5" r="1.1" fill="#000"/>
<path d="M56.3 303.4V326.1" stroke="#222" stroke-width="0.55" fill="none"/>
<path d="M53.35 303.4H59.25M53.35 326.1H59.25" stroke="#000" stroke-width="0.9" fill="none"/>
<circle cx="56.3" cy="302.8" r="1.1" fill="#000"/>
<circle cx="56.3" cy="314.4" r="1.1" fill="#000"/>
<circle cx="56.3" cy="326.3" r="1.1" fill="#000"/>
<path d="M25.33 286.42V373.18M20.83 373.18H69.13" stroke="#1a1a1a" stroke-width="1.15" fill="none"/>
<text transform="translate(19.73 375.68) scale(0.96 1)" text-anchor="end" class="tl">0</text>
<g transform="translate(19.73 353.99) scale(0.96 1)"><text text-anchor="end" class="tl"><tspan class="h">1</tspan></text><path d="M515 0L515 1237L197 1010L197 1180L530 1409L696 1409L696 0Z" transform="translate(-4.03 0) scale(0.003540 -0.003540)" class="o"/></g>
<text transform="translate(19.73 332.3) scale(0.96 1)" text-anchor="end" class="tl">2</text>
<text transform="translate(19.73 310.61) scale(0.96 1)" text-anchor="end" class="tl">3</text>
<text transform="translate(19.73 288.92) scale(0.96 1)" text-anchor="end" class="tl">4</text>
<path d="M20.83 373.18H25.33M20.83 351.49H25.33M20.83 329.8H25.33M20.83 308.11H25.33M20.83 286.42H25.33M37.73 373.18V377.78M56.3 373.18V377.78" stroke="#1a1a1a" stroke-width="1.15" fill="none"/>
<text transform="translate(37.73 385.18) scale(0.96 1)" text-anchor="middle" class="xl">RA9</text>
<g transform="translate(57.8 385.18) scale(0.96 1)"><text text-anchor="middle" class="xl">M<tspan class="h">1</tspan>7</text><path d="M515 0L515 1237L197 1010L197 1180L530 1409L696 1409L696 0Z" transform="translate(-0.98 0) scale(0.003418 -0.003418)" class="o"/></g>
<text transform="translate(10 369.7) rotate(-90) scale(0.95 1)" class="yl">Relative expression</text>
<text x="34.3" y="278.7" class="tt">Rsa<tspan letter-spacing="-0.45">7</tspan>g<tspan letter-spacing="-0.45">0<tspan class="h">1</tspan>8250</tspan></text><path d="M412 0L650 1223L289 1000L324 1180L701 1409L867 1409L593 0Z" transform="translate(60.97 278.7) scale(0.003906 -0.003906)" class="o oi"/>
<text x="34.3" y="288" class="tt">(RsZFP<tspan letter-spacing="-0.45">4</tspan>)</text>
<text x="53.6" y="303.5" text-anchor="middle" class="st">*</text>
<text x="58.1" y="303.5" text-anchor="middle" class="st">*</text>
<rect x="156.62" y="314.3" width="12.25" height="58.88" fill="#00bf00"/>
<rect x="175.19" y="359.4" width="12.25" height="13.78" fill="#800080"/>
<path d="M162.74 300.5V327.2" stroke="#222" stroke-width="0.55" fill="none"/>
<path d="M159.79 300.5H165.69M159.79 327.2H165.69" stroke="#000" stroke-width="0.9" fill="none"/>
<circle cx="162.74" cy="298.4" r="1.1" fill="#000"/>
<circle cx="162.74" cy="320.4" r="1.1" fill="#000"/>
<circle cx="162.74" cy="323.5" r="1.1" fill="#000"/>
<path d="M181.31 357V361.8" stroke="#222" stroke-width="0.55" fill="none"/>
<path d="M178.36 357H184.26M178.36 361.8H184.26" stroke="#000" stroke-width="0.9" fill="none"/>
<circle cx="181.31" cy="357.5" r="1.1" fill="#000"/>
<circle cx="181.31" cy="359.5" r="1.1" fill="#000"/>
<circle cx="181.31" cy="361" r="1.1" fill="#000"/>
<path d="M150.34 286.42V373.18M145.84 373.18H194.14" stroke="#1a1a1a" stroke-width="1.15" fill="none"/>
<text transform="translate(144.74 375.68) scale(0.96 1)" text-anchor="end" class="tl">0.0</text>
<text transform="translate(144.74 346.76) scale(0.96 1)" text-anchor="end" class="tl">0.5</text>
<g transform="translate(144.74 317.84) scale(0.96 1)"><text text-anchor="end" class="tl"><tspan class="h">1</tspan>.0</text><path d="M515 0L515 1237L197 1010L197 1180L530 1409L696 1409L696 0Z" transform="translate(-10.08 0) scale(0.003540 -0.003540)" class="o"/></g>
<g transform="translate(144.74 288.92) scale(0.96 1)"><text text-anchor="end" class="tl"><tspan class="h">1</tspan>.5</text><path d="M515 0L515 1237L197 1010L197 1180L530 1409L696 1409L696 0Z" transform="translate(-10.08 0) scale(0.003540 -0.003540)" class="o"/></g>
<path d="M145.84 373.18H150.34M145.84 344.26H150.34M145.84 315.34H150.34M145.84 286.42H150.34M162.74 373.18V377.78M181.31 373.18V377.78" stroke="#1a1a1a" stroke-width="1.15" fill="none"/>
<text transform="translate(162.74 385.18) scale(0.96 1)" text-anchor="middle" class="xl">RA9</text>
<g transform="translate(182.81 385.18) scale(0.96 1)"><text text-anchor="middle" class="xl">M<tspan class="h">1</tspan>7</text><path d="M515 0L515 1237L197 1010L197 1180L530 1409L696 1409L696 0Z" transform="translate(-0.98 0) scale(0.003418 -0.003418)" class="o"/></g>
<text transform="translate(129 369.7) rotate(-90) scale(0.95 1)" class="yl">Relative expression</text>
<text x="161" y="279" class="tt">Rsa<tspan letter-spacing="-0.45">7</tspan>g<tspan letter-spacing="-0.45">0<tspan class="h">1</tspan>8260</tspan></text><path d="M412 0L650 1223L289 1000L324 1180L701 1409L867 1409L593 0Z" transform="translate(187.67 279) scale(0.003906 -0.003906)" class="o oi"/>
<text x="161" y="288.3" class="tt">(HP)</text>
<text x="178.61" y="357" text-anchor="middle" class="st">*</text>
<text x="183.11" y="357" text-anchor="middle" class="st">*</text>
<rect x="275.72" y="314.7" width="12.25" height="58.48" fill="#00bf00"/>
<rect x="294.29" y="342.1" width="12.25" height="31.08" fill="#800080"/>
<path d="M281.85 303.2V325.1" stroke="#222" stroke-width="0.55" fill="none"/>
<path d="M278.9 303.2H284.8M278.9 325.1H284.8" stroke="#000" stroke-width="0.9" fill="none"/>
<circle cx="281.85" cy="301.8" r="1.1" fill="#000"/>
<circle cx="281.85" cy="317.2" r="1.1" fill="#000"/>
<circle cx="281.85" cy="324.7" r="1.1" fill="#000"/>
<path d="M300.42 337.6V347.5" stroke="#222" stroke-width="0.55" fill="none"/>
<path d="M297.47 337.6H303.37M297.47 347.5H303.37" stroke="#000" stroke-width="0.9" fill="none"/>
<circle cx="299.42" cy="339.1" r="1.1" fill="#000"/>
<circle cx="301.42" cy="339.9" r="1.1" fill="#000"/>
<circle cx="300.42" cy="347.2" r="1.1" fill="#000"/>
<path d="M269.45 286.42V373.18M264.95 373.18H313.25" stroke="#1a1a1a" stroke-width="1.15" fill="none"/>
<text transform="translate(263.85 375.68) scale(0.96 1)" text-anchor="end" class="tl">0.0</text>
<text transform="translate(263.85 346.76) scale(0.96 1)" text-anchor="end" class="tl">0.5</text>
<g transform="translate(263.85 317.84) scale(0.96 1)"><text text-anchor="end" class="tl"><tspan class="h">1</tspan>.0</text><path d="M515 0L515 1237L197 1010L197 1180L530 1409L696 1409L696 0Z" transform="translate(-10.08 0) scale(0.003540 -0.003540)" class="o"/></g>
<g transform="translate(263.85 288.92) scale(0.96 1)"><text text-anchor="end" class="tl"><tspan class="h">1</tspan>.5</text><path d="M515 0L515 1237L197 1010L197 1180L530 1409L696 1409L696 0Z" transform="translate(-10.08 0) scale(0.003540 -0.003540)" class="o"/></g>
<path d="M264.95 373.18H269.45M264.95 344.26H269.45M264.95 315.34H269.45M264.95 286.42H269.45M281.85 373.18V377.78M300.42 373.18V377.78" stroke="#1a1a1a" stroke-width="1.15" fill="none"/>
<text transform="translate(281.85 385.18) scale(0.96 1)" text-anchor="middle" class="xl">RA9</text>
<g transform="translate(301.92 385.18) scale(0.96 1)"><text text-anchor="middle" class="xl">M<tspan class="h">1</tspan>7</text><path d="M515 0L515 1237L197 1010L197 1180L530 1409L696 1409L696 0Z" transform="translate(-0.98 0) scale(0.003418 -0.003418)" class="o"/></g>
<text transform="translate(248.4 369.7) rotate(-90) scale(0.95 1)" class="yl">Relative expression</text>
<text x="280.4" y="279.6" class="tt">Rsa<tspan letter-spacing="-0.45">7</tspan>g<tspan letter-spacing="-0.45">0<tspan class="h">1</tspan>8270</tspan></text><path d="M412 0L650 1223L289 1000L324 1180L701 1409L867 1409L593 0Z" transform="translate(307.07 279.6) scale(0.003906 -0.003906)" class="o oi"/>
<text x="280.4" y="288.9" class="tt">(RsEIF<tspan letter-spacing="-0.45">3</tspan>J)</text>
<text x="299.97" y="337.1" text-anchor="middle" class="st">*</text>
<rect x="395.17" y="315.1" width="12.25" height="58.08" fill="#00bf00"/>
<rect x="413.75" y="349.2" width="12.25" height="23.98" fill="#800080"/>
<path d="M401.3 309.3V320.5" stroke="#222" stroke-width="0.55" fill="none"/>
<path d="M398.35 309.3H404.25M398.35 320.5H404.25" stroke="#000" stroke-width="0.9" fill="none"/>
<circle cx="401.3" cy="309.3" r="1.1" fill="#000"/>
<circle cx="401.3" cy="317" r="1.1" fill="#000"/>
<circle cx="401.3" cy="319.2" r="1.1" fill="#000"/>
<path d="M419.87 343.3V354.5" stroke="#222" stroke-width="0.55" fill="none"/>
<path d="M416.92 343.3H422.82M416.92 354.5H422.82" stroke="#000" stroke-width="0.9" fill="none"/>
<circle cx="419.87" cy="343.3" r="1.1" fill="#000"/>
<circle cx="419.87" cy="351.6" r="1.1" fill="#000"/>
<circle cx="419.87" cy="354" r="1.1" fill="#000"/>
<path d="M388.9 286.42V373.18M384.4 373.18H432.7" stroke="#1a1a1a" stroke-width="1.15" fill="none"/>
<text transform="translate(383.3 375.68) scale(0.96 1)" text-anchor="end" class="tl">0.0</text>
<text transform="translate(383.3 346.76) scale(0.96 1)" text-anchor="end" class="tl">0.5</text>
<g transform="translate(383.3 317.84) scale(0.96 1)"><text text-anchor="end" class="tl"><tspan class="h">1</tspan>.0</text><path d="M515 0L515 1237L197 1010L197 1180L530 1409L696 1409L696 0Z" transform="translate(-10.08 0) scale(0.003540 -0.003540)" class="o"/></g>
<g transform="translate(383.3 288.92) scale(0.96 1)"><text text-anchor="end" class="tl"><tspan class="h">1</tspan>.5</text><path d="M515 0L515 1237L197 1010L197 1180L530 1409L696 1409L696 0Z" transform="translate(-10.08 0) scale(0.003540 -0.003540)" class="o"/></g>
<path d="M384.4 373.18H388.9M384.4 344.26H388.9M384.4 315.34H388.9M384.4 286.42H388.9M401.3 373.18V377.78M419.87 373.18V377.78" stroke="#1a1a1a" stroke-width="1.15" fill="none"/>
<text transform="translate(401.3 385.18) scale(0.96 1)" text-anchor="middle" class="xl">RA9</text>
<g transform="translate(421.37 385.18) scale(0.96 1)"><text text-anchor="middle" class="xl">M<tspan class="h">1</tspan>7</text><path d="M515 0L515 1237L197 1010L197 1180L530 1409L696 1409L696 0Z" transform="translate(-0.98 0) scale(0.003418 -0.003418)" class="o"/></g>
<text transform="translate(367.8 369.7) rotate(-90) scale(0.95 1)" class="yl">Relative expression</text>
<text x="400.2" y="280.9" class="tt">Rsa<tspan letter-spacing="-0.45">7</tspan>a<tspan letter-spacing="-0.45">0<tspan class="h">1</tspan>8290</tspan></text><path d="M412 0L650 1223L289 1000L324 1180L701 1409L867 1409L593 0Z" transform="translate(426.87 280.9) scale(0.003906 -0.003906)" class="o oi"/>
<text x="400.2" y="290.2" class="tt">(RsNMD<tspan letter-spacing="-0.45">3</tspan>)</text>
<text x="417.17" y="343.7" text-anchor="middle" class="st">*</text>
<text x="421.67" y="343.7" text-anchor="middle" class="st">*</text>
<rect x="514.24" y="315.1" width="12.25" height="58.08" fill="#00bf00"/>
<rect x="532.8" y="364.2" width="12.25" height="8.98" fill="#800080"/>
<path d="M520.36 310.4V319.3" stroke="#222" stroke-width="0.55" fill="none"/>
<path d="M517.41 310.4H523.31M517.41 319.3H523.31" stroke="#000" stroke-width="0.9" fill="none"/>
<circle cx="520.36" cy="309.25" r="1.1" fill="#000"/>
<circle cx="519.36" cy="318.4" r="1.1" fill="#000"/>
<circle cx="521.36" cy="318.6" r="1.1" fill="#000"/>
<path d="M538.93 363.2V365.5" stroke="#222" stroke-width="0.55" fill="none"/>
<path d="M535.98 363.2H541.88M535.98 365.5H541.88" stroke="#000" stroke-width="0.9" fill="none"/>
<circle cx="537.73" cy="363.8" r="1.1" fill="#000"/>
<circle cx="538.93" cy="364.5" r="1.1" fill="#000"/>
<circle cx="540.13" cy="364" r="1.1" fill="#000"/>
<path d="M507.96 286.42V373.18M503.46 373.18H551.76" stroke="#1a1a1a" stroke-width="1.15" fill="none"/>
<text transform="translate(502.36 375.68) scale(0.96 1)" text-anchor="end" class="tl">0.0</text>
<text transform="translate(502.36 346.76) scale(0.96 1)" text-anchor="end" class="tl">0.5</text>
<g transform="translate(502.36 317.84) scale(0.96 1)"><text text-anchor="end" class="tl"><tspan class="h">1</tspan>.0</text><path d="M515 0L515 1237L197 1010L197 1180L530 1409L696 1409L696 0Z" transform="translate(-10.08 0) scale(0.003540 -0.003540)" class="o"/></g>
<g transform="translate(502.36 288.92) scale(0.96 1)"><text text-anchor="end" class="tl"><tspan class="h">1</tspan>.5</text><path d="M515 0L515 1237L197 1010L197 1180L530 1409L696 1409L696 0Z" transform="translate(-10.08 0) scale(0.003540 -0.003540)" class="o"/></g>
<path d="M503.46 373.18H507.96M503.46 344.26H507.96M503.46 315.34H507.96M503.46 286.42H507.96M520.36 373.18V377.78M538.93 373.18V377.78" stroke="#1a1a1a" stroke-width="1.15" fill="none"/>
<text transform="translate(520.36 385.18) scale(0.96 1)" text-anchor="middle" class="xl">RA9</text>
<g transform="translate(540.43 385.18) scale(0.96 1)"><text text-anchor="middle" class="xl">M<tspan class="h">1</tspan>7</text><path d="M515 0L515 1237L197 1010L197 1180L530 1409L696 1409L696 0Z" transform="translate(-0.98 0) scale(0.003418 -0.003418)" class="o"/></g>
<text transform="translate(486.9 369.7) rotate(-90) scale(0.95 1)" class="yl">Relative expression</text>
<text x="518.9" y="280.8" class="tt">Rsa<tspan letter-spacing="-0.45">7</tspan>g<tspan letter-spacing="-0.45">0<tspan class="h">1</tspan>83<tspan class="h">1</tspan>0</tspan></text><path d="M412 0L650 1223L289 1000L324 1180L701 1409L867 1409L593 0Z" transform="translate(545.57 280.8) scale(0.003906 -0.003906)" class="o oi"/><path d="M412 0L650 1223L289 1000L324 1180L701 1409L867 1409L593 0Z" transform="translate(557.57 280.8) scale(0.003906 -0.003906)" class="o oi"/>
<text x="518.9" y="290.1" class="tt">(RsGAD<tspan letter-spacing="-0.45">2</tspan>)</text>
<text x="536.23" y="364.6" text-anchor="middle" class="st">*</text>
<text x="540.73" y="364.6" text-anchor="middle" class="st">*</text>
<rect x="633.61" y="315.1" width="12.25" height="58.08" fill="#00bf00"/>
<rect x="652.18" y="307.7" width="12.25" height="65.48" fill="#800080"/>
<path d="M639.73 310.7V319.6" stroke="#222" stroke-width="0.55" fill="none"/>
<path d="M636.78 310.7H642.68M636.78 319.6H642.68" stroke="#000" stroke-width="0.9" fill="none"/>
<circle cx="639.73" cy="311.5" r="1.1" fill="#000"/>
<circle cx="639.73" cy="314.1" r="1.1" fill="#000"/>
<circle cx="639.73" cy="319.6" r="1.1" fill="#000"/>
<path d="M658.3 302.05V312.5" stroke="#222" stroke-width="0.55" fill="none"/>
<path d="M655.35 302.05H661.25M655.35 312.5H661.25" stroke="#000" stroke-width="0.9" fill="none"/>
<circle cx="658.3" cy="301.5" r="1.1" fill="#000"/>
<circle cx="657.4" cy="310.8" r="1.1" fill="#000"/>
<circle cx="659.2" cy="310.7" r="1.1" fill="#000"/>
<path d="M627.33 286.42V373.18M622.83 373.18H671.13" stroke="#1a1a1a" stroke-width="1.15" fill="none"/>
<text transform="translate(621.73 375.68) scale(0.96 1)" text-anchor="end" class="tl">0.0</text>
<text transform="translate(621.73 346.76) scale(0.96 1)" text-anchor="end" class="tl">0.5</text>
<g transform="translate(621.73 317.84) scale(0.96 1)"><text text-anchor="end" class="tl"><tspan class="h">1</tspan>.0</text><path d="M515 0L515 1237L197 1010L197 1180L530 1409L696 1409L696 0Z" transform="translate(-10.08 0) scale(0.003540 -0.003540)" class="o"/></g>
<g transform="translate(621.73 288.92) scale(0.96 1)"><text text-anchor="end" class="tl"><tspan class="h">1</tspan>.5</text><path d="M515 0L515 1237L197 1010L197 1180L530 1409L696 1409L696 0Z" transform="translate(-10.08 0) scale(0.003540 -0.003540)" class="o"/></g>
<path d="M622.83 373.18H627.33M622.83 344.26H627.33M622.83 315.34H627.33M622.83 286.42H627.33M639.73 373.18V377.78M658.3 373.18V377.78" stroke="#1a1a1a" stroke-width="1.15" fill="none"/>
<text transform="translate(639.73 385.18) scale(0.96 1)" text-anchor="middle" class="xl">RA9</text>
<g transform="translate(659.8 385.18) scale(0.96 1)"><text text-anchor="middle" class="xl">M<tspan class="h">1</tspan>7</text><path d="M515 0L515 1237L197 1010L197 1180L530 1409L696 1409L696 0Z" transform="translate(-0.98 0) scale(0.003418 -0.003418)" class="o"/></g>
<text transform="translate(606 369.7) rotate(-90) scale(0.95 1)" class="yl">Relative expression</text>
<text x="637.2" y="278.9" class="tt">Rsa<tspan letter-spacing="-0.45">7</tspan>g<tspan letter-spacing="-0.45">0<tspan class="h">1</tspan>8320</tspan></text><path d="M412 0L650 1223L289 1000L324 1180L701 1409L867 1409L593 0Z" transform="translate(663.87 278.9) scale(0.003906 -0.003906)" class="o oi"/>
<text x="637.2" y="288.2" letter-spacing="-0.15" class="tt">(RsABC<tspan letter-spacing="-0.45"><tspan class="h">1</tspan></tspan>K<tspan letter-spacing="-0.45"><tspan class="h">1</tspan>5</tspan>)</text><path d="M412 0L650 1223L289 1000L324 1180L701 1409L867 1409L593 0Z" transform="translate(665.19 288.2) scale(0.003906 -0.003906)" class="o oi"/><path d="M412 0L650 1223L289 1000L324 1180L701 1409L867 1409L593 0Z" transform="translate(674.38 288.2) scale(0.003906 -0.003906)" class="o oi"/>
<text transform="translate(658.95 297.8) scale(0.96 1)" text-anchor="middle" class="ns">ns</text>
<rect x="36.95" y="450.1" width="12.25" height="57.55" fill="#00bf00"/>
<rect x="55.52" y="497.6" width="12.25" height="10.05" fill="#800080"/>
<path d="M43.08 447.7V451.9" stroke="#222" stroke-width="0.55" fill="none"/>
<path d="M40.13 447.7H46.03M40.13 451.9H46.03" stroke="#000" stroke-width="0.9" fill="none"/>
<circle cx="43.08" cy="448.2" r="1.1" fill="#000"/>
<circle cx="43.08" cy="450.2" r="1.1" fill="#000"/>
<circle cx="43.08" cy="451.5" r="1.1" fill="#000"/>
<path d="M61.65 496.8V498.6" stroke="#222" stroke-width="0.55" fill="none"/>
<path d="M58.7 496.8H64.6M58.7 498.6H64.6" stroke="#000" stroke-width="0.9" fill="none"/>
<circle cx="60.65" cy="497" r="1.1" fill="#000"/>
<circle cx="62.65" cy="497.2" r="1.1" fill="#000"/>
<circle cx="61.65" cy="498.3" r="1.1" fill="#000"/>
<path d="M30.68 420.65V507.65M26.18 507.65H74.48" stroke="#1a1a1a" stroke-width="1.15" fill="none"/>
<text transform="translate(25.08 510.15) scale(0.96 1)" text-anchor="end" class="tl">0.0</text>
<text transform="translate(25.08 481.15) scale(0.96 1)" text-anchor="end" class="tl">0.5</text>
<g transform="translate(25.08 452.15) scale(0.96 1)"><text text-anchor="end" class="tl"><tspan class="h">1</tspan>.0</text><path d="M515 0L515 1237L197 1010L197 1180L530 1409L696 1409L696 0Z" transform="translate(-10.08 0) scale(0.003540 -0.003540)" class="o"/></g>
<g transform="translate(25.08 423.15) scale(0.96 1)"><text text-anchor="end" class="tl"><tspan class="h">1</tspan>.5</text><path d="M515 0L515 1237L197 1010L197 1180L530 1409L696 1409L696 0Z" transform="translate(-10.08 0) scale(0.003540 -0.003540)" class="o"/></g>
<path d="M26.18 507.65H30.68M26.18 478.65H30.68M26.18 449.65H30.68M26.18 420.65H30.68M43.08 507.65V512.25M61.65 507.65V512.25" stroke="#1a1a1a" stroke-width="1.15" fill="none"/>
<text transform="translate(43.08 519.65) scale(0.96 1)" text-anchor="middle" class="xl">RA9</text>
<g transform="translate(63.15 519.65) scale(0.96 1)"><text text-anchor="middle" class="xl">M<tspan class="h">1</tspan>7</text><path d="M515 0L515 1237L197 1010L197 1180L530 1409L696 1409L696 0Z" transform="translate(-0.98 0) scale(0.003418 -0.003418)" class="o"/></g>
<text transform="translate(10 504.5) rotate(-90) scale(0.95 1)" class="yl">Relative expression</text>
<text x="41.4" y="414.9" class="tt">Rsa<tspan letter-spacing="-0.45">7</tspan>g<tspan letter-spacing="-0.45">0<tspan class="h">1</tspan>8330</tspan></text><path d="M412 0L650 1223L289 1000L324 1180L701 1409L867 1409L593 0Z" transform="translate(68.07 414.9) scale(0.003906 -0.003906)" class="o oi"/>
<text x="41.4" y="424.2" class="tt">(RsGAD<tspan letter-spacing="-0.45">2</tspan>)</text>
<text x="58.95" y="496.7" text-anchor="middle" class="st">*</text>
<text x="63.45" y="496.7" text-anchor="middle" class="st">*</text>
<rect x="156.18" y="464.1" width="12.25" height="43.55" fill="#00bf00"/>
<rect x="174.75" y="449.2" width="12.25" height="58.45" fill="#800080"/>
<path d="M162.3 458.2V469.2" stroke="#222" stroke-width="0.55" fill="none"/>
<path d="M159.35 458.2H165.25M159.35 469.2H165.25" stroke="#000" stroke-width="0.9" fill="none"/>
<circle cx="162.3" cy="458.2" r="1.1" fill="#000"/>
<circle cx="162.3" cy="464.6" r="1.1" fill="#000"/>
<circle cx="162.3" cy="469.2" r="1.1" fill="#000"/>
<path d="M180.87 440.8V456.8" stroke="#222" stroke-width="0.55" fill="none"/>
<path d="M177.92 440.8H183.82M177.92 456.8H183.82" stroke="#000" stroke-width="0.9" fill="none"/>
<circle cx="180.07" cy="443.9" r="1.1" fill="#000"/>
<circle cx="181.67" cy="444.5" r="1.1" fill="#000"/>
<circle cx="180.87" cy="456.8" r="1.1" fill="#000"/>
<path d="M149.9 420.65V507.65M145.4 507.65H193.7" stroke="#1a1a1a" stroke-width="1.15" fill="none"/>
<text transform="translate(144.3 510.15) scale(0.96 1)" text-anchor="end" class="tl">0.0</text>
<text transform="translate(144.3 488.4) scale(0.96 1)" text-anchor="end" class="tl">0.5</text>
<g transform="translate(144.3 466.65) scale(0.96 1)"><text text-anchor="end" class="tl"><tspan class="h">1</tspan>.0</text><path d="M515 0L515 1237L197 1010L197 1180L530 1409L696 1409L696 0Z" transform="translate(-10.08 0) scale(0.003540 -0.003540)" class="o"/></g>
<g transform="translate(144.3 444.9) scale(0.96 1)"><text text-anchor="end" class="tl"><tspan class="h">1</tspan>.5</text><path d="M515 0L515 1237L197 1010L197 1180L530 1409L696 1409L696 0Z" transform="translate(-10.08 0) scale(0.003540 -0.003540)" class="o"/></g>
<text transform="translate(144.3 423.15) scale(0.96 1)" text-anchor="end" class="tl">2.0</text>
<path d="M145.4 507.65H149.9M145.4 485.9H149.9M145.4 464.15H149.9M145.4 442.4H149.9M145.4 420.65H149.9M162.3 507.65V512.25M180.87 507.65V512.25" stroke="#1a1a1a" stroke-width="1.15" fill="none"/>
<text transform="translate(162.3 519.65) scale(0.96 1)" text-anchor="middle" class="xl">RA9</text>
<g transform="translate(182.37 519.65) scale(0.96 1)"><text text-anchor="middle" class="xl">M<tspan class="h">1</tspan>7</text><path d="M515 0L515 1237L197 1010L197 1180L530 1409L696 1409L696 0Z" transform="translate(-0.98 0) scale(0.003418 -0.003418)" class="o"/></g>
<text transform="translate(129 504.5) rotate(-90) scale(0.95 1)" class="yl">Relative expression</text>
<text x="158.2" y="415.2" class="tt">Rsa<tspan letter-spacing="-0.45">7</tspan>g<tspan letter-spacing="-0.45">0<tspan class="h">1</tspan>8340</tspan></text><path d="M412 0L650 1223L289 1000L324 1180L701 1409L867 1409L593 0Z" transform="translate(184.87 415.2) scale(0.003906 -0.003906)" class="o oi"/>
<text x="158.2" y="424.5" letter-spacing="-0.12" class="tt">(RsABC<tspan letter-spacing="-0.45"><tspan class="h">1</tspan></tspan>K<tspan letter-spacing="-0.45"><tspan class="h">1</tspan>5</tspan>)</text><path d="M412 0L650 1223L289 1000L324 1180L701 1409L867 1409L593 0Z" transform="translate(186.37 424.5) scale(0.003906 -0.003906)" class="o oi"/><path d="M412 0L650 1223L289 1000L324 1180L701 1409L867 1409L593 0Z" transform="translate(195.59 424.5) scale(0.003906 -0.003906)" class="o oi"/>
<text x="180.42" y="441" text-anchor="middle" class="st">*</text>
<rect x="275.72" y="449.7" width="12.25" height="57.95" fill="#00bf00"/>
<rect x="294.29" y="481.7" width="12.25" height="25.95" fill="#800080"/>
<path d="M281.85 443.2V455.8" stroke="#222" stroke-width="0.55" fill="none"/>
<path d="M278.9 443.2H284.8M278.9 455.8H284.8" stroke="#000" stroke-width="0.9" fill="none"/>
<circle cx="281.85" cy="443.2" r="1.1" fill="#000"/>
<circle cx="281.85" cy="449.9" r="1.1" fill="#000"/>
<circle cx="281.85" cy="455.8" r="1.1" fill="#000"/>
<path d="M300.42 477.1V486" stroke="#222" stroke-width="0.55" fill="none"/>
<path d="M297.47 477.1H303.37M297.47 486H303.37" stroke="#000" stroke-width="0.9" fill="none"/>
<circle cx="300.42" cy="476.8" r="1.1" fill="#000"/>
<circle cx="300.42" cy="480.4" r="1.1" fill="#000"/>
<circle cx="300.42" cy="485.6" r="1.1" fill="#000"/>
<path d="M269.45 420.65V507.65M264.95 507.65H313.25" stroke="#1a1a1a" stroke-width="1.15" fill="none"/>
<text transform="translate(263.85 510.15) scale(0.96 1)" text-anchor="end" class="tl">0.0</text>
<text transform="translate(263.85 481.15) scale(0.96 1)" text-anchor="end" class="tl">0.5</text>
<g transform="translate(263.85 452.15) scale(0.96 1)"><text text-anchor="end" class="tl"><tspan class="h">1</tspan>.0</text><path d="M515 0L515 1237L197 1010L197 1180L530 1409L696 1409L696 0Z" transform="translate(-10.08 0) scale(0.003540 -0.003540)" class="o"/></g>
<g transform="translate(263.85 423.15) scale(0.96 1)"><text text-anchor="end" class="tl"><tspan class="h">1</tspan>.5</text><path d="M515 0L515 1237L197 1010L197 1180L530 1409L696 1409L696 0Z" transform="translate(-10.08 0) scale(0.003540 -0.003540)" class="o"/></g>
<path d="M264.95 507.65H269.45M264.95 478.65H269.45M264.95 449.65H269.45M264.95 420.65H269.45M281.85 507.65V512.25M300.42 507.65V512.25" stroke="#1a1a1a" stroke-width="1.15" fill="none"/>
<text transform="translate(281.85 519.65) scale(0.96 1)" text-anchor="middle" class="xl">RA9</text>
<g transform="translate(301.92 519.65) scale(0.96 1)"><text text-anchor="middle" class="xl">M<tspan class="h">1</tspan>7</text><path d="M515 0L515 1237L197 1010L197 1180L530 1409L696 1409L696 0Z" transform="translate(-0.98 0) scale(0.003418 -0.003418)" class="o"/></g>
<text transform="translate(248.4 504.5) rotate(-90) scale(0.95 1)" class="yl">Relative expression</text>
<text x="280.2" y="414.1" class="tt">Rsa<tspan letter-spacing="-0.45">7</tspan>g<tspan letter-spacing="-0.45">0<tspan class="h">1</tspan>8350</tspan></text><path d="M412 0L650 1223L289 1000L324 1180L701 1409L867 1409L593 0Z" transform="translate(306.87 414.1) scale(0.003906 -0.003906)" class="o oi"/>
<text x="280.2" y="423.4" class="tt">(RsCICDH)</text>
<text x="297.72" y="476.7" text-anchor="middle" class="st">*</text>
<text x="302.22" y="476.7" text-anchor="middle" class="st">*</text>
<rect x="395.17" y="449.1" width="12.25" height="58.55" fill="#00bf00"/>
<rect x="413.75" y="448.5" width="12.25" height="59.15" fill="#800080"/>
<path d="M401.3 437.4V460.75" stroke="#222" stroke-width="0.55" fill="none"/>
<path d="M398.35 437.4H404.25M398.35 460.75H404.25" stroke="#000" stroke-width="0.9" fill="none"/>
<circle cx="401.3" cy="441.6" r="1.1" fill="#000"/>
<circle cx="401.3" cy="443" r="1.1" fill="#000"/>
<circle cx="401.3" cy="462.1" r="1.1" fill="#000"/>
<path d="M419.87 437V459.6" stroke="#222" stroke-width="0.55" fill="none"/>
<path d="M416.92 437H422.82M416.92 459.6H422.82" stroke="#000" stroke-width="0.9" fill="none"/>
<circle cx="419.87" cy="435.1" r="1.1" fill="#000"/>
<circle cx="419.87" cy="454.2" r="1.1" fill="#000"/>
<circle cx="419.87" cy="455.5" r="1.1" fill="#000"/>
<path d="M388.9 420.65V507.65M384.4 507.65H432.7" stroke="#1a1a1a" stroke-width="1.15" fill="none"/>
<text transform="translate(383.3 510.15) scale(0.96 1)" text-anchor="end" class="tl">0.0</text>
<text transform="translate(383.3 481.15) scale(0.96 1)" text-anchor="end" class="tl">0.5</text>
<g transform="translate(383.3 452.15) scale(0.96 1)"><text text-anchor="end" class="tl"><tspan class="h">1</tspan>.0</text><path d="M515 0L515 1237L197 1010L197 1180L530 1409L696 1409L696 0Z" transform="translate(-10.08 0) scale(0.003540 -0.003540)" class="o"/></g>
<g transform="translate(383.3 423.15) scale(0.96 1)"><text text-anchor="end" class="tl"><tspan class="h">1</tspan>.5</text><path d="M515 0L515 1237L197 1010L197 1180L530 1409L696 1409L696 0Z" transform="translate(-10.08 0) scale(0.003540 -0.003540)" class="o"/></g>
<path d="M384.4 507.65H388.9M384.4 478.65H388.9M384.4 449.65H388.9M384.4 420.65H388.9M401.3 507.65V512.25M419.87 507.65V512.25" stroke="#1a1a1a" stroke-width="1.15" fill="none"/>
<text transform="translate(401.3 519.65) scale(0.96 1)" text-anchor="middle" class="xl">RA9</text>
<g transform="translate(421.37 519.65) scale(0.96 1)"><text text-anchor="middle" class="xl">M<tspan class="h">1</tspan>7</text><path d="M515 0L515 1237L197 1010L197 1180L530 1409L696 1409L696 0Z" transform="translate(-0.98 0) scale(0.003418 -0.003418)" class="o"/></g>
<text transform="translate(367.8 504.5) rotate(-90) scale(0.95 1)" class="yl">Relative expression</text>
<text x="399" y="412.3" class="tt">Rsa<tspan letter-spacing="-0.45">7</tspan>g<tspan letter-spacing="-0.45">0<tspan class="h">1</tspan>8360</tspan></text><path d="M412 0L650 1223L289 1000L324 1180L701 1409L867 1409L593 0Z" transform="translate(425.67 412.3) scale(0.003906 -0.003906)" class="o oi"/>
<text x="399" y="421.6" class="tt">(HP)</text>
<text transform="translate(420.52 432.6) scale(0.96 1)" text-anchor="middle" class="ns">ns</text>
<rect x="514.24" y="449.7" width="12.25" height="57.95" fill="#00bf00"/>
<rect x="532.8" y="476.9" width="12.25" height="30.75" fill="#800080"/>
<path d="M520.36 442.2V456.4" stroke="#222" stroke-width="0.55" fill="none"/>
<path d="M517.41 442.2H523.31M517.41 456.4H523.31" stroke="#000" stroke-width="0.9" fill="none"/>
<circle cx="520.36" cy="441.2" r="1.1" fill="#000"/>
<circle cx="520.36" cy="451.3" r="1.1" fill="#000"/>
<circle cx="520.36" cy="455.7" r="1.1" fill="#000"/>
<path d="M538.93 471.4V481" stroke="#222" stroke-width="0.55" fill="none"/>
<path d="M535.98 471.4H541.88M535.98 481H541.88" stroke="#000" stroke-width="0.9" fill="none"/>
<circle cx="538.93" cy="471.4" r="1.1" fill="#000"/>
<circle cx="538.93" cy="476" r="1.1" fill="#000"/>
<circle cx="538.93" cy="480.5" r="1.1" fill="#000"/>
<path d="M507.96 420.65V507.65M503.46 507.65H551.76" stroke="#1a1a1a" stroke-width="1.15" fill="none"/>
<text transform="translate(502.36 510.15) scale(0.96 1)" text-anchor="end" class="tl">0.0</text>
<text transform="translate(502.36 481.15) scale(0.96 1)" text-anchor="end" class="tl">0.5</text>
<g transform="translate(502.36 452.15) scale(0.96 1)"><text text-anchor="end" class="tl"><tspan class="h">1</tspan>.0</text><path d="M515 0L515 1237L197 1010L197 1180L530 1409L696 1409L696 0Z" transform="translate(-10.08 0) scale(0.003540 -0.003540)" class="o"/></g>
<g transform="translate(502.36 423.15) scale(0.96 1)"><text text-anchor="end" class="tl"><tspan class="h">1</tspan>.5</text><path d="M515 0L515 1237L197 1010L197 1180L530 1409L696 1409L696 0Z" transform="translate(-10.08 0) scale(0.003540 -0.003540)" class="o"/></g>
<path d="M503.46 507.65H507.96M503.46 478.65H507.96M503.46 449.65H507.96M503.46 420.65H507.96M520.36 507.65V512.25M538.93 507.65V512.25" stroke="#1a1a1a" stroke-width="1.15" fill="none"/>
<text transform="translate(520.36 519.65) scale(0.96 1)" text-anchor="middle" class="xl">RA9</text>
<g transform="translate(540.43 519.65) scale(0.96 1)"><text text-anchor="middle" class="xl">M<tspan class="h">1</tspan>7</text><path d="M515 0L515 1237L197 1010L197 1180L530 1409L696 1409L696 0Z" transform="translate(-0.98 0) scale(0.003418 -0.003418)" class="o"/></g>
<text transform="translate(486.9 504.5) rotate(-90) scale(0.95 1)" class="yl">Relative expression</text>
<text x="518" y="413.5" class="tt">Rsa<tspan letter-spacing="-0.45">7</tspan>g<tspan letter-spacing="-0.45">0<tspan class="h">1</tspan>8370</tspan></text><path d="M412 0L650 1223L289 1000L324 1180L701 1409L867 1409L593 0Z" transform="translate(544.67 413.5) scale(0.003906 -0.003906)" class="o oi"/>
<text x="518" y="422.8" class="tt">(RsAAE<tspan letter-spacing="-0.45"><tspan class="h">1</tspan>2</tspan>)</text><path d="M412 0L650 1223L289 1000L324 1180L701 1409L867 1409L593 0Z" transform="translate(546.45 422.8) scale(0.003906 -0.003906)" class="o oi"/>
<text x="536.23" y="472" text-anchor="middle" class="st">*</text>
<text x="540.73" y="472" text-anchor="middle" class="st">*</text>
<rect x="633.61" y="464.1" width="12.25" height="43.55" fill="#00bf00"/>
<rect x="652.18" y="442.9" width="12.25" height="64.75" fill="#800080"/>
<path d="M639.73 456.9V471.3" stroke="#222" stroke-width="0.55" fill="none"/>
<path d="M636.78 456.9H642.68M636.78 471.3H642.68" stroke="#000" stroke-width="0.9" fill="none"/>
<circle cx="639.73" cy="457.9" r="1.1" fill="#000"/>
<circle cx="639.73" cy="462.35" r="1.1" fill="#000"/>
<circle cx="639.73" cy="471.3" r="1.1" fill="#000"/>
<path d="M658.3 437.45V448.4" stroke="#222" stroke-width="0.55" fill="none"/>
<path d="M655.35 437.45H661.25M655.35 448.4H661.25" stroke="#000" stroke-width="0.9" fill="none"/>
<circle cx="657.4" cy="438.9" r="1.1" fill="#000"/>
<circle cx="659.2" cy="439.7" r="1.1" fill="#000"/>
<circle cx="658.3" cy="448.4" r="1.1" fill="#000"/>
<path d="M627.33 420.65V507.65M622.83 507.65H671.13" stroke="#1a1a1a" stroke-width="1.15" fill="none"/>
<text transform="translate(621.73 510.15) scale(0.96 1)" text-anchor="end" class="tl">0.0</text>
<text transform="translate(621.73 488.4) scale(0.96 1)" text-anchor="end" class="tl">0.5</text>
<g transform="translate(621.73 466.65) scale(0.96 1)"><text text-anchor="end" class="tl"><tspan class="h">1</tspan>.0</text><path d="M515 0L515 1237L197 1010L197 1180L530 1409L696 1409L696 0Z" transform="translate(-10.08 0) scale(0.003540 -0.003540)" class="o"/></g>
<g transform="translate(621.73 444.9) scale(0.96 1)"><text text-anchor="end" class="tl"><tspan class="h">1</tspan>.5</text><path d="M515 0L515 1237L197 1010L197 1180L530 1409L696 1409L696 0Z" transform="translate(-10.08 0) scale(0.003540 -0.003540)" class="o"/></g>
<text transform="translate(621.73 423.15) scale(0.96 1)" text-anchor="end" class="tl">2.0</text>
<path d="M622.83 507.65H627.33M622.83 485.9H627.33M622.83 464.15H627.33M622.83 442.4H627.33M622.83 420.65H627.33M639.73 507.65V512.25M658.3 507.65V512.25" stroke="#1a1a1a" stroke-width="1.15" fill="none"/>
<text transform="translate(639.73 519.65) scale(0.96 1)" text-anchor="middle" class="xl">RA9</text>
<g transform="translate(659.8 519.65) scale(0.96 1)"><text text-anchor="middle" class="xl">M<tspan class="h">1</tspan>7</text><path d="M515 0L515 1237L197 1010L197 1180L530 1409L696 1409L696 0Z" transform="translate(-0.98 0) scale(0.003418 -0.003418)" class="o"/></g>
<text transform="translate(606 504.5) rotate(-90) scale(0.95 1)" class="yl">Relative expression</text>
<text x="637.2" y="413.5" class="tt">Rsa<tspan letter-spacing="-0.45">7</tspan>g<tspan letter-spacing="-0.45">0<tspan class="h">1</tspan>8380</tspan></text><path d="M412 0L650 1223L289 1000L324 1180L701 1409L867 1409L593 0Z" transform="translate(663.87 413.5) scale(0.003906 -0.003906)" class="o oi"/>
<text x="637.2" y="422.8" class="tt">(RsSD<tspan letter-spacing="-0.45"><tspan class="h">1</tspan></tspan>-<tspan letter-spacing="-0.45">6</tspan>)</text><path d="M412 0L650 1223L289 1000L324 1180L701 1409L867 1409L593 0Z" transform="translate(660.75 422.8) scale(0.003906 -0.003906)" class="o oi"/>
<text x="657.85" y="437.2" text-anchor="middle" class="st">*</text>
</svg>
</body></html>
